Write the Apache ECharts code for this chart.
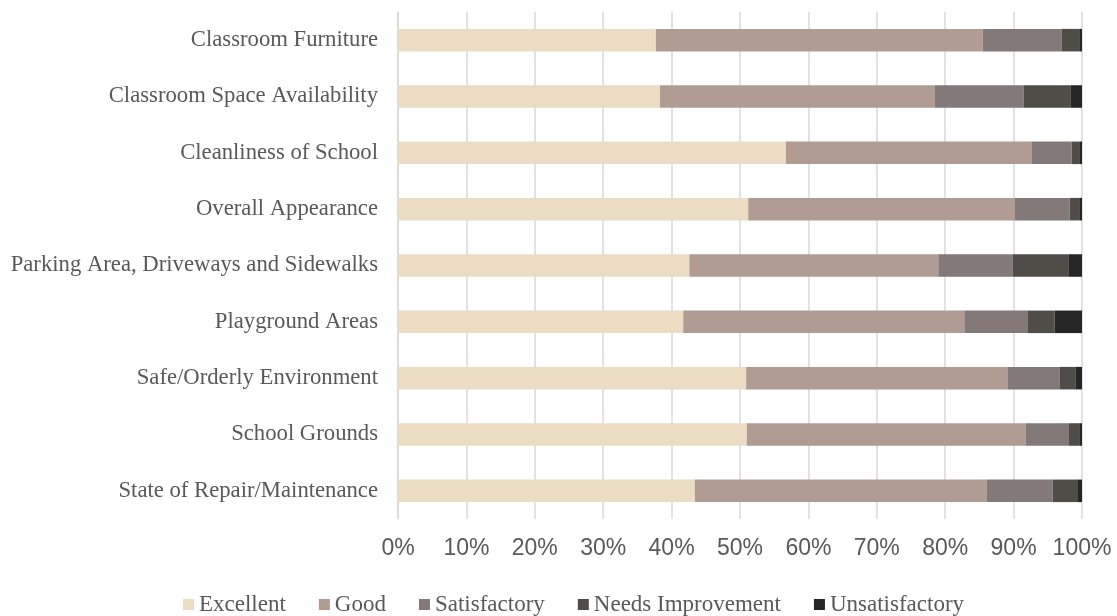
<!DOCTYPE html>
<html>
<head>
<meta charset="utf-8">
<script src="https://cdn.jsdelivr.net/npm/echarts@6/dist/echarts.min.js"></script>
<style>
  html, body { margin: 0; padding: 0; background: #fff; }
  #chart { width: 1117px; height: 616px; }
</style>
</head>
<body>
<div id="chart"></div>
<script>
  // categories, top to bottom
  var categories = [
    'Classroom Furniture',
    'Classroom Space Availability',
    'Cleanliness of School',
    'Overall Appearance',
    'Parking Area, Driveways and Sidewalks',
    'Playground Areas',
    'Safe/Orderly Environment',
    'School Grounds',
    'State of Repair/Maintenance'
  ]

  // percentages per rating, same order as categories
  var excellent = [37.7, 38.3, 56.7, 51.2, 42.6, 41.7, 50.9, 51.0, 43.4]
  var good = [47.8, 40.2, 35.9, 39.0, 36.4, 41.1, 38.2, 40.8, 42.7]
  var satisfactory = [11.5, 13.0, 5.9, 8.0, 10.9, 9.3, 7.6, 6.3, 9.6]
  var needsImprovement = [2.6, 6.8, 1.1, 1.4, 8.1, 3.9, 2.4, 1.5, 3.6]
  var unsatisfactory = [0.4, 1.7, 0.4, 0.4, 2.0, 4.0, 0.9, 0.4, 0.7]

  var seriesNames = ['Excellent', 'Good', 'Satisfactory', 'Needs Improvement', 'Unsatisfactory']
  var seriesData = [excellent, good, satisfactory, needsImprovement, unsatisfactory]
  var colors = ['#EADDC4', '#B09C93', '#837979', '#504D48', '#262626']

  var series = []
  for (var i = 0; i < seriesNames.length; i++) {
    series.push({
      name: seriesNames[i],
      type: 'bar',
      stack: 'total',
      barWidth: '40%',
      itemStyle: {color: colors[i]},
      data: seriesData[i]
    })
  }

  var chart = echarts.init(document.getElementById('chart'))
  chart.setOption({
    animation: false,
    color: colors,
    grid: {
      left: 398,
      right: 35,
      top: 12,
      bottom: 97
    },
    legend: {
      top: 588,
      left: 178,
      itemWidth: 11,
      itemHeight: 11,
      itemGap: 33,
      icon: 'rect',
      textStyle: {
        fontFamily: 'Liberation Serif',
        fontSize: 23,
        color: '#595959'
      },
      data: seriesNames
    },
    xAxis: {
      type: 'value',
      min: 0,
      max: 100,
      interval: 10,
      axisLine: {show: false},
      axisTick: {show: false},
      splitLine: {lineStyle: {color: '#D9D9D9', width: 1.5}},
      axisLabel: {
        formatter: '{value}%',
        margin: 18,
        fontFamily: 'Liberation Sans',
        fontSize: 23,
        color: '#595959'
      }
    },
    yAxis: {
      type: 'category',
      inverse: true,
      data: categories,
      axisLine: {lineStyle: {color: '#D9D9D9', width: 1.5}},
      axisTick: {show: false},
      axisLabel: {
        margin: 20,
        fontFamily: 'Liberation Serif',
        fontSize: 22.7,
        color: '#595959'
      }
    },
    series: series
  })
</script>
</body>
</html>
